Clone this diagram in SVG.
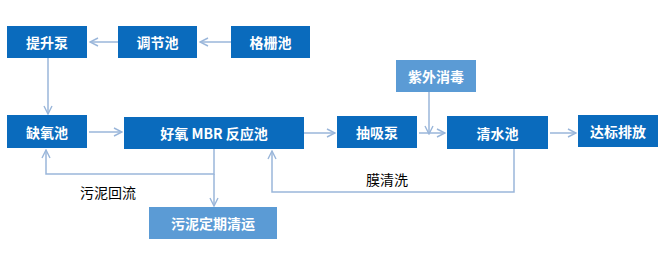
<svg xmlns="http://www.w3.org/2000/svg" width="666" height="263" viewBox="0 0 666 263">
<style>
.box{fill:#0a6bbd}
.lbox{fill:#5b9bd5}
.bt{font-family:"Noto Sans CJK SC","Liberation Sans",sans-serif;font-size:14px;font-weight:bold;fill:#fff;text-anchor:middle;dominant-baseline:central}
.lt{font-family:"Noto Sans CJK SC","Liberation Sans",sans-serif;font-size:14px;fill:#000;text-anchor:middle;dominant-baseline:central}
.c{fill:none;stroke:#9ab6da;stroke-width:1.5}
</style>
<defs>
<marker id="ah" viewBox="0 0 10 10" refX="9" refY="5" markerWidth="10" markerHeight="10" markerUnits="userSpaceOnUse" orient="auto">
<path d="M1,1 L9,5 L1,9" fill="none" stroke="#9ab6da" stroke-width="1.4"/>
</marker>
</defs>
<g id="connectors">
<line class="c" x1="118" y1="42" x2="90" y2="42" marker-end="url(#ah)"/>
<line class="c" x1="231" y1="42" x2="200" y2="42" marker-end="url(#ah)"/>
<line class="c" x1="48" y1="58" x2="48" y2="114" marker-end="url(#ah)"/>
<line class="c" x1="89" y1="132" x2="122" y2="132" marker-end="url(#ah)"/>
<line class="c" x1="304" y1="133" x2="335" y2="133" marker-end="url(#ah)"/>
<line class="c" x1="419" y1="133" x2="445" y2="133" marker-end="url(#ah)"/>
<line class="c" x1="429" y1="92" x2="429" y2="134" marker-end="url(#ah)"/>
<line class="c" x1="550" y1="133" x2="576" y2="133" marker-end="url(#ah)"/>
<polyline class="c" points="214,149 214,174 46,174 46,150" marker-end="url(#ah)"/>
<line class="c" x1="214" y1="174" x2="214" y2="206" marker-end="url(#ah)"/>
<polyline class="c" points="514,149 514,192 272,192 272,151" marker-end="url(#ah)"/>
<text class="lt" x="108" y="192">污泥回流</text>
<text class="lt" x="387" y="179">膜清洗</text>
</g>
<g id="n1"><rect class="box" x="7" y="26" width="80" height="32"/><text class="bt" x="47" y="42">提升泵</text></g>
<g id="n2"><rect class="box" x="118" y="26" width="79" height="32"/><text class="bt" x="157.5" y="42">调节池</text></g>
<g id="n3"><rect class="box" x="231" y="26" width="79" height="32"/><text class="bt" x="270.5" y="42">格栅池</text></g>
<g id="n4"><rect class="box" x="7" y="115" width="80" height="33"/><text class="bt" x="47" y="131.5">缺氧池</text></g>
<g id="n5"><rect class="box" x="124" y="117" width="180" height="32"/><text class="bt" x="214" y="133">好氧 MBR 反应池</text></g>
<g id="n6"><rect class="box" x="337" y="116" width="80" height="32"/><text class="bt" x="377" y="132">抽吸泵</text></g>
<g id="n7"><rect class="lbox" x="396" y="60" width="80" height="32"/><text class="bt" x="436" y="76">紫外消毒</text></g>
<g id="n8"><rect class="box" x="447" y="116" width="101" height="33"/><text class="bt" x="497.5" y="132.5">清水池</text></g>
<g id="n9"><rect class="box" x="578" y="115" width="80" height="32"/><text class="bt" x="618" y="131">达标排放</text></g>
<g id="n10"><rect class="lbox" x="149" y="207" width="128" height="32"/><text class="bt" x="213" y="223">污泥定期清运</text></g>
</svg>
